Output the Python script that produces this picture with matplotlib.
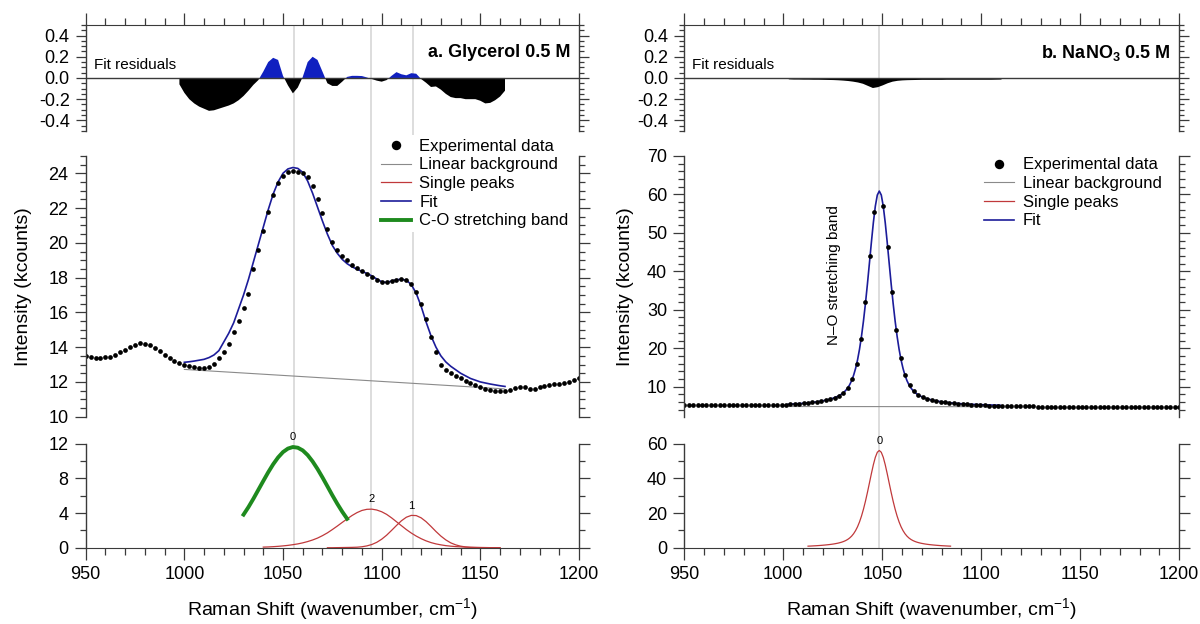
import numpy as np
import matplotlib
matplotlib.use('Agg')
import matplotlib.pyplot as plt
from matplotlib.ticker import MultipleLocator

plt.rcParams['font.family'] = ['Liberation Sans', 'DejaVu Sans']
plt.rcParams['axes.unicode_minus'] = False
plt.rcParams['mathtext.fontset'] = 'custom'
plt.rcParams['mathtext.rm'] = 'Liberation Sans'
plt.rcParams['mathtext.bf'] = 'Liberation Sans:bold'

# ---- a. Glycerol 0.5 M (kcounts) ----
# experimental data, 950 -> 1200 cm-1
gly_exp = [13.5, 13.45, 13.4, 13.4, 13.42, 13.45, 13.55, 13.7, 13.85, 14.0,
           14.15, 14.22, 14.2, 14.1, 13.95, 13.75, 13.55, 13.35, 13.2, 13.08,
           12.98, 12.9, 12.83, 12.8, 12.8, 12.88, 13.05, 13.35, 13.7, 14.2,
           14.85, 15.5, 16.25, 17.05, 18.5, 19.6, 20.7, 21.8, 22.75, 23.45,
           23.85, 24.05, 24.12, 24.1, 24.0, 23.8, 23.25, 22.5, 21.7, 20.8,
           20.05, 19.6, 19.25, 19.0, 18.75, 18.55, 18.4, 18.22, 18.05, 17.85,
           17.72, 17.72, 17.8, 17.88, 17.9, 17.85, 17.65, 17.2, 16.5, 15.6,
           14.6, 13.7, 13.0, 12.7, 12.5, 12.35, 12.22, 12.08, 11.95, 11.82,
           11.7, 11.57, 11.52, 11.5, 11.5, 11.5, 11.55, 11.65, 11.7, 11.68,
           11.6, 11.62, 11.72, 11.78, 11.82, 11.86, 11.9, 11.95, 12.0, 12.1,
           12.25]
# fit, 1000 -> 1162.5
gly_fit = [13.13, 13.16, 13.2, 13.25, 13.3, 13.4, 13.55, 13.8, 14.3, 14.8,
           15.4, 16.2, 17.0, 17.9, 18.9, 19.9, 20.9, 21.9, 22.8, 23.5,
           24.0, 24.25, 24.33, 24.28, 24.05, 23.55, 22.85, 22.05, 21.25, 20.5,
           19.85, 19.4, 19.05, 18.8, 18.62, 18.48, 18.36, 18.24, 18.1, 17.92,
           17.76, 17.72, 17.8, 17.88, 17.9, 17.85, 17.6, 17.1, 16.35, 15.45,
           14.65, 14.0, 13.5, 13.15, 12.9, 12.7, 12.5, 12.35, 12.2, 12.1,
           12.0, 11.94, 11.88, 11.83, 11.78, 11.74]
gly_bg_x = [1000, 1162]
gly_bg = [12.72, 11.6]
# residuals, 997.5 -> 1162.5
gly_res = [-0.06, -0.14, -0.2, -0.24, -0.27, -0.29, -0.31, -0.305, -0.29, -0.275,
           -0.26, -0.24, -0.21, -0.17, -0.12, -0.065, -0.02, 0.06, 0.15, 0.19,
           0.17, 0.02, -0.07, -0.145, -0.09, 0.01, 0.15, 0.2, 0.17, 0.06,
           -0.05, -0.075, -0.075, -0.035, 0.01, 0.02, 0.02, 0.018, 0.005, -0.01,
           -0.025, -0.035, -0.02, 0.02, 0.055, 0.035, 0.025, 0.045, 0.04, -0.01,
           -0.045, -0.085, -0.08, -0.11, -0.15, -0.18, -0.19, -0.19, -0.2, -0.2,
           -0.2, -0.215, -0.24, -0.235, -0.21, -0.175, -0.12]
# single peaks
gly_pk0 = [3.82, 4.69, 5.65, 6.67, 7.69, 8.69, 9.61, 10.4, 11.02, 11.42, 11.6,
           11.52, 11.21, 10.67, 9.94, 9.07, 8.1, 7.08, 6.05, 5.07, 4.16, 3.34]   # 1030 -> 1082.5
gly_pk2 = [0.08, 0.1, 0.13, 0.17, 0.22, 0.28, 0.36, 0.45, 0.57, 0.72,
           0.9, 1.12, 1.4, 1.72, 2.1, 2.5, 2.92, 3.33, 3.72, 4.05,
           4.3, 4.43, 4.45, 4.35, 4.15, 3.85, 3.45, 3.0, 2.55, 2.1,
           1.7, 1.35, 1.05, 0.8, 0.6, 0.45, 0.34, 0.25, 0.19, 0.14,
           0.11, 0.08, 0.06, 0.05, 0.04, 0.03, 0.02, 0.02, 0.01]             # 1040 -> 1160
gly_pk1 = [0.01, 0.01, 0.02, 0.03, 0.04, 0.05, 0.07, 0.12, 0.22, 0.38,
           0.63, 0.99, 1.45, 2.0, 2.57, 3.11, 3.52, 3.73, 3.71, 3.45,
           3.01, 2.46, 1.88, 1.35, 0.91, 0.57, 0.34, 0.19, 0.1, 0.05,
           0.03, 0.02, 0.01, 0.01, 0.0, 0.0]                                 # 1072.5 -> 1160
gly_centers = [1055.5, 1094.5, 1116]

# ---- b. NaNO3 0.5 M (kcounts) ----
# experimental data, 950 -> 1200 cm-1 (113 points), no point visible at the apex
nan = np.nan
nano_exp = [5.26, 5.25, 5.25, 5.26, 5.25, 5.24, 5.25, 5.26, 5.25, 5.25,
            5.25, 5.26, 5.25, 5.25, 5.24, 5.25, 5.26, 5.25, 5.25, 5.26,
            5.26, 5.27, 5.28, 5.33, 5.4, 5.47, 5.56, 5.66, 5.78, 5.9,
            6.05, 6.22, 6.45, 6.75, 7.1, 7.6, 8.45, 9.7, 11.9, 15.8,
            22.5, 32.0, 44.0, 55.5, nan, 57.0, 46.4, 34.6, 24.7, 17.4,
            13.0, 10.4, 8.8, 7.9, 7.3, 6.9, 6.58, 6.33, 6.12, 5.95,
            5.82, 5.7, 5.6, 5.5, 5.42, 5.34, 5.27, 5.2, 5.13, 5.07,
            5.02, 4.98, 4.95, 4.93, 4.92, 4.9, 4.9, 4.88, 4.87, 4.86,
            4.85, 4.85, 4.84, 4.83, 4.82, 4.82, 4.81, 4.8, 4.8, 4.79,
            4.78, 4.78, 4.77, 4.77, 4.76, 4.76, 4.75, 4.75, 4.74, 4.74,
            4.73, 4.73, 4.72, 4.72, 4.72, 4.71, 4.71, 4.71, 4.7, 4.7,
            4.7, 4.7, 4.7]
# fit, 1002.5 -> 1109.5 step 1
nano_fit = [5.44, 5.47, 5.49, 5.52, 5.56, 5.59, 5.63, 5.66, 5.71, 5.75,
            5.8, 5.85, 5.91, 5.98, 6.04, 6.12, 6.2, 6.29, 6.39, 6.5,
            6.62, 6.75, 6.9, 7.07, 7.28, 7.5, 7.78, 8.1, 8.51, 9.01,
            9.65, 10.48, 11.55, 12.94, 14.72, 16.95, 19.73, 23.1, 27.07, 31.63,
            36.68, 42.07, 47.52, 52.65, 56.94, 59.82, 60.85, 59.82, 56.94, 52.65,
            47.52, 42.07, 36.68, 31.63, 27.07, 23.1, 19.73, 16.95, 14.72, 12.94,
            11.55, 10.48, 9.65, 9.01, 8.51, 8.1, 7.78, 7.5, 7.28, 7.07,
            6.9, 6.75, 6.62, 6.5, 6.39, 6.29, 6.2, 6.12, 6.04, 5.98,
            5.91, 5.85, 5.8, 5.75, 5.71, 5.66, 5.63, 5.59, 5.56, 5.52,
            5.49, 5.47, 5.44, 5.42, 5.39, 5.37, 5.35, 5.33, 5.31, 5.3,
            5.28, 5.26, 5.25, 5.24, 5.22, 5.21, 5.2, 5.19]
nano_bg_x = [1002.5, 1109.5]
nano_bg = [4.85, 4.8]
# residuals, 1002.5 -> 1110
nano_res = [-0.008, -0.01, -0.01, -0.011, -0.011, -0.012, -0.012, -0.013, -0.014, -0.015,
            -0.017, -0.02, -0.024, -0.03, -0.038, -0.05, -0.07, -0.09, -0.082, -0.065,
            -0.045, -0.03, -0.022, -0.018, -0.016, -0.015, -0.014, -0.013, -0.013, -0.013,
            -0.013, -0.013, -0.012, -0.012, -0.012, -0.012, -0.012, -0.012, -0.012, -0.012,
            -0.012, -0.012, -0.011, -0.01]
# single peak, 1012.5 -> 1084.5 step 1
nano_pk0 = [0.95, 1.0, 1.06, 1.13, 1.19, 1.27, 1.35, 1.44, 1.54, 1.65,
            1.77, 1.9, 2.05, 2.22, 2.43, 2.65, 2.93, 3.25, 3.66, 4.16,
            4.8, 5.63, 6.7, 8.09, 9.87, 12.1, 14.88, 18.25, 22.22, 26.78,
            31.83, 37.22, 42.67, 47.8, 52.09, 54.97, 56.0, 54.97, 52.09, 47.8,
            42.67, 37.22, 31.83, 26.78, 22.22, 18.25, 14.88, 12.1, 9.87, 8.09,
            6.7, 5.63, 4.8, 4.16, 3.66, 3.25, 2.93, 2.65, 2.43, 2.22,
            2.05, 1.9, 1.77, 1.65, 1.54, 1.44, 1.35, 1.27, 1.19, 1.13,
            1.06, 1.0, 0.95]
nano_centers = [1048.5]

C_FIT = '#1c1c9a'
C_PEAK = '#c0393b'
C_CO = '#1e8a1e'
C_BG = '#8a8a8a'
C_POS = '#1020c0'
C_GRID = '#dadada'
C_AX = '#3a3a3a'
TICK_FS = 13

fig = plt.figure(figsize=(12, 6.24), dpi=100)

col_x = [0.0714, 0.5703]
col_w = [0.4111, 0.4123]
res_box = (0.7901, 0.1699)
mid_box = (0.3322, 0.4180)
bot_box = (0.1221, 0.1671)


def style_axes(ax, ymaj, ymin, show_bottom=False, show_top=False, ylen=8, ylen_min=4.5):
    for s in ['left', 'right']:
        ax.spines[s].set_color(C_AX)
        ax.spines[s].set_linewidth(1.0)
    ax.spines['top'].set_visible(show_top)
    ax.spines['bottom'].set_visible(show_bottom)
    ax.spines['top'].set_color(C_AX)
    ax.spines['bottom'].set_color(C_AX)
    ax.yaxis.set_major_locator(MultipleLocator(ymaj))
    ax.yaxis.set_minor_locator(MultipleLocator(ymin))
    ax.tick_params(axis='y', which='both', direction='out', left=True, right=True,
                   labelleft=True, labelright=False, color=C_AX, width=0.9,
                   labelsize=TICK_FS, pad=4.5)
    ax.tick_params(axis='y', which='major', length=ylen)
    ax.tick_params(axis='y', which='minor', length=ylen_min)
    ax.xaxis.set_major_locator(MultipleLocator(50))
    ax.xaxis.set_minor_locator(MultipleLocator(10))
    ax.tick_params(axis='x', which='both', direction='out', color=C_AX, width=0.9,
                   bottom=show_bottom, top=show_top, labelbottom=show_bottom,
                   labeltop=False, labelsize=TICK_FS, pad=4.5)
    ax.tick_params(axis='x', which='major', length=8.5)
    ax.tick_params(axis='x', which='minor', length=4.8)
    ax.set_xlim(950, 1200)
    ax.set_facecolor('none')


for i in range(2):
    x0, w = col_x[i], col_w[i]
    # vertical guide lines at the peak positions, through all three panels
    gax = fig.add_axes([x0, bot_box[0], w, res_box[0] + res_box[1] - bot_box[0]], zorder=0)
    gax.set_xlim(950, 1200)
    gax.set_axis_off()
    for c in (gly_centers if i == 0 else nano_centers):
        gax.axvline(c, color=C_GRID, lw=1.3)

    axr = fig.add_axes([x0, res_box[0], w, res_box[1]], zorder=1)
    axm = fig.add_axes([x0, mid_box[0], w, mid_box[1]], zorder=1)
    axb = fig.add_axes([x0, bot_box[0], w, bot_box[1]], zorder=1)

    # residuals
    if i == 0:
        rx = np.linspace(997.5, 1162.5, len(gly_res))
        ry = np.array(gly_res)
    else:
        rx = np.linspace(1002.5, 1110, len(nano_res))
        ry = np.array(nano_res)
    axr.fill_between(rx, ry, 0, where=ry >= 0, interpolate=True, color=C_POS, lw=0)
    axr.fill_between(rx, ry, 0, where=ry <= 0, interpolate=True, color='black', lw=0)
    axr.axhline(0, color=C_AX, lw=1.0)
    axr.set_ylim(-0.5, 0.5)
    style_axes(axr, 0.2, 0.05, show_top=True, ylen=7, ylen_min=3.5)
    axr.xaxis.set_ticks_position('top')
    axr.tick_params(axis='x', which='both', top=True, bottom=False, labeltop=False, labelbottom=False)
    axr.text(954, 0.12, 'Fit residuals', fontsize=11, ha='left', va='center')

    # middle: data + fit
    if i == 0:
        ex = np.linspace(950, 1200, len(gly_exp))
        l_bg, = axm.plot(gly_bg_x, gly_bg, color=C_BG, lw=0.8, label='Linear background')
        l_fit, = axm.plot(np.linspace(1000, 1162.5, len(gly_fit)), gly_fit, color=C_FIT, lw=1.2, label='Fit')
        l_exp, = axm.plot(ex, gly_exp, 'o', color='black', ms=3.4, mew=0, label='Experimental data')
        axm.set_ylim(10, 25)
        style_axes(axm, 2, 0.5)
        axr.text(1195.5, 0.24, 'a. Glycerol 0.5 M', fontsize=13, fontweight='bold', ha='right', va='center')
    else:
        ex = np.linspace(950, 1200, len(nano_exp))
        l_bg, = axm.plot(nano_bg_x, nano_bg, color=C_BG, lw=0.8, label='Linear background')
        l_fit, = axm.plot(np.linspace(1002.5, 1109.5, len(nano_fit)), nano_fit, color=C_FIT, lw=1.2, label='Fit')
        l_exp, = axm.plot(ex, nano_exp, 'o', color='black', ms=3.4, mew=0, label='Experimental data')
        axm.set_ylim(2.2, 70)
        style_axes(axm, 10, 2)
        axr.text(1195.5, 0.24, r'b. NaNO$_\mathbf{3}$ 0.5 M', fontsize=13, fontweight='bold', ha='right', va='center')
        axm.text(1025.6, 39, 'N–O stretching band', fontsize=11, rotation=90, ha='center', va='center')
    axm.set_ylabel('Intensity (kcounts)', fontsize=14)
    axm.yaxis.set_label_coords(-0.108 if i == 0 else -0.101, 0.5)

    # bottom: single peaks
    if i == 0:
        px0 = np.linspace(1030, 1082.5, len(gly_pk0))
        px2 = np.linspace(1040, 1160, len(gly_pk2))
        px1 = np.linspace(1072.5, 1160, len(gly_pk1))
        l_pk, = axb.plot(px2, gly_pk2, color=C_PEAK, lw=0.9, label='Single peaks')
        axb.plot(px1, gly_pk1, color=C_PEAK, lw=0.9)
        l_co, = axb.plot(px0, gly_pk0, color=C_CO, lw=2.8, label='C-O stretching band')
        peaks = [(px0, gly_pk0, '0'), (px2, gly_pk2, '2'), (px1, gly_pk1, '1')]
        axb.set_ylim(0, 12)
        style_axes(axb, 4, 2, show_bottom=True)
        handles = [l_exp, l_bg, l_pk, l_fit, l_co]
        anchor = (0.3148, 0.783)
    else:
        px0 = np.linspace(1012.5, 1084.5, len(nano_pk0))
        l_pk, = axb.plot(px0, nano_pk0, color=C_PEAK, lw=0.9, label='Single peaks')
        peaks = [(px0, nano_pk0, '0')]
        axb.set_ylim(0, 60)
        style_axes(axb, 20, 10, show_bottom=True)
        handles = [l_exp, l_bg, l_pk, l_fit]
        anchor = (0.8175, 0.7532)
    for px, py, name in peaks:
        k = int(np.argmax(py))
        axb.annotate(name, (px[k], py[k]), xytext=(0, 3.5), textcoords='offset points',
                     ha='center', va='bottom', fontsize=8, annotation_clip=False)
    axb.set_xlabel('Raman Shift (wavenumber, cm$^{-1}$)', fontsize=14)
    axb.xaxis.set_label_coords(0.5, -0.47)

    leg = axm.legend(handles=handles, loc='upper left', bbox_to_anchor=anchor,
                     bbox_transform=fig.transFigure, fontsize=12, markerscale=2.0,
                     frameon=True, fancybox=False, framealpha=1, facecolor='white',
                     edgecolor='none', handlelength=1.8, handletextpad=0.5,
                     labelspacing=0.22, borderpad=0.2, borderaxespad=0, numpoints=1)
    leg.set_zorder(5)

fig.savefig('out.png', dpi=100)
